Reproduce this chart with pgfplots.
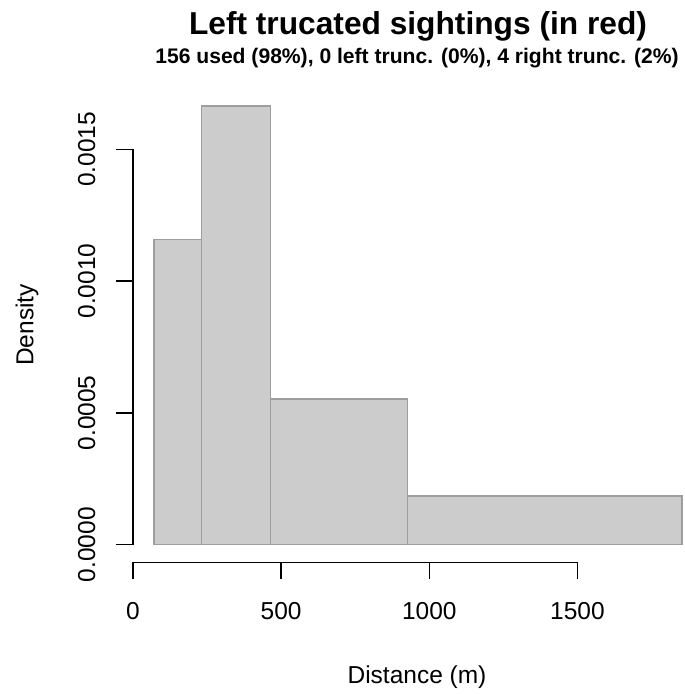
\documentclass[border=0pt]{standalone}
\usepackage{pgfplots}
\pgfplotsset{compat=1.18}
\usepackage{fontspec}
\setmainfont{Liberation Sans}

\definecolor{barfill}{RGB}{204,204,204}
\definecolor{barline}{RGB}{158,158,158}

\newcommand{\ticklab}{\fontsize{24.5bp}{29bp}\selectfont}

\begin{document}
\begin{tikzpicture}[x=1bp,y=1bp]
\useasboundingbox (0,0) rectangle (685,694);

\begin{axis}[
  at={(133bp,131.8bp)}, anchor=south west,
  scale only axis,
  width=570bp, height=473.8bp,
  xmin=0, xmax=1924,
  ymin=-0.0000666, ymax=0.001731,
  axis lines=none, ticks=none,
  clip=false,
]
% histogram of distances (density scale), unequal bin widths
\addplot[ybar interval, fill=barfill, draw=barline, line width=1.1bp]
  coordinates {
    (71,0.0011586)
    (232,0.0016643)
    (465,0.0005527)
    (926,0.0001847)
    (1853,0.0001847)
  };

% x axis, drawn below the plotting region
\draw[line width=1.3bp, line cap=rect]
  (axis cs:0,-0.0000666) -- (axis cs:1500,-0.0000666);
\draw[line width=1.3bp]
  (axis cs:0,-0.0000666) -- ++(0bp,-17bp)
  (axis cs:500,-0.0000666) -- ++(0bp,-17bp)
  (axis cs:1000,-0.0000666) -- ++(0bp,-17bp)
  (axis cs:1500,-0.0000666) -- ++(0bp,-17bp);
\node[anchor=base, font=\ticklab] at ([yshift=-57.1bp]axis cs:0,-0.0000666) {0};
\node[anchor=base, font=\ticklab] at ([yshift=-57.1bp]axis cs:500,-0.0000666) {500};
\node[anchor=base, font=\ticklab] at ([yshift=-57.1bp]axis cs:1000,-0.0000666) {1000};
\node[anchor=base, font=\ticklab] at ([yshift=-57.1bp]axis cs:1500,-0.0000666) {1500};

% y axis, on the left edge of the plotting region
\draw[line width=1.3bp, line cap=rect]
  (axis cs:0,0) -- (axis cs:0,0.0015);
\draw[line width=1.3bp]
  (axis cs:0,0) -- ++(-17bp,0bp)
  (axis cs:0,0.0005) -- ++(-17bp,0bp)
  (axis cs:0,0.0010) -- ++(-17bp,0bp)
  (axis cs:0,0.0015) -- ++(-17bp,0bp);
\node[anchor=base, rotate=90, font=\ticklab] at ([xshift=-38bp]axis cs:0,0) {0.0000};
\node[anchor=base, rotate=90, font=\ticklab] at ([xshift=-38bp]axis cs:0,0.0005) {0.0005};
\node[anchor=base, rotate=90, font=\ticklab] at ([xshift=-38bp]axis cs:0,0.0010) {0.0010};
\node[anchor=base, rotate=90, font=\ticklab] at ([xshift=-38bp]axis cs:0,0.0015) {0.0015};
\end{axis}

% titles and axis labels
\node[anchor=base, font=\fontsize{31.7bp}{38bp}\selectfont\bfseries]
  at (418,659) {Left trucated sightings (in red)};
\node[anchor=base, font=\fontsize{21.1bp}{25bp}\selectfont\bfseries]
  at (417,630.7) {156 used (98\%), 0 left trunc. (0\%), 4 right trunc. (2\%)};
\node[anchor=base, font=\ticklab] at (417,10.7) {Distance (m)};
\node[anchor=base, rotate=90, font=\ticklab] at (33.3,369) {Density};
\end{tikzpicture}
\end{document}
